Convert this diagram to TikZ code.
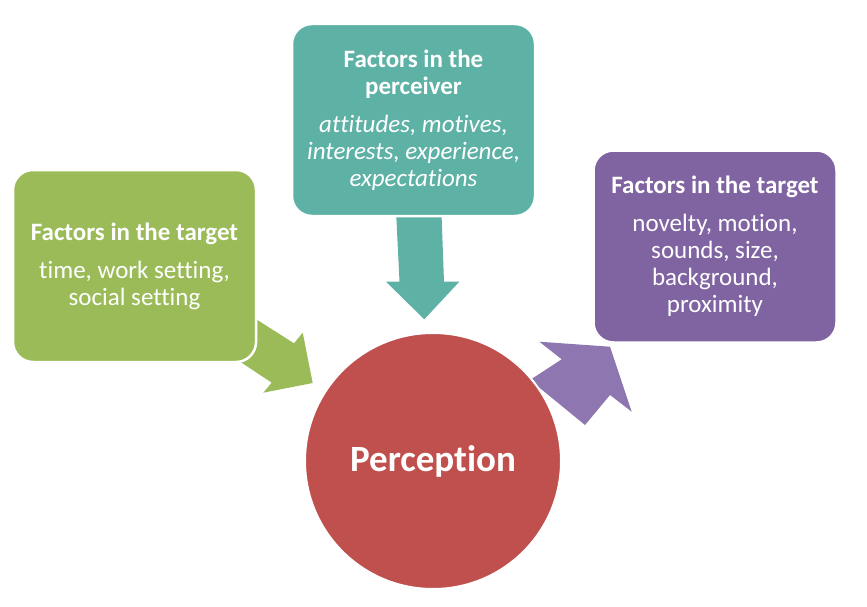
\documentclass[tikz,border=0pt]{standalone}
\usepackage{fontspec}
\setmainfont{Carlito}[Ligatures={NoCommon}]
\definecolor{greenc}{HTML}{9BBB59}
\definecolor{tealc}{HTML}{5EB1A5}
\definecolor{purplec}{HTML}{8064A2}
\definecolor{purplea}{HTML}{8E77B0}
\definecolor{redc}{HTML}{C0504D}
\begin{document}
\begin{tikzpicture}[x=1pt,y=-1pt]
\tikzset{
  fbox/.style={rounded corners=20pt, draw=white, line width=2.5pt, text=white,
    align=center, inner sep=0pt, minimum width=243pt, minimum height=192pt,
    font=\fontsize{25}{27}\selectfont}
}
\useasboundingbox (0,0) rectangle (867,607);
% block arrows
\fill[greenc] (230,302.6) -- (294,343.3) -- (302.7,332.7) -- (312.7,383) -- (263.3,392.7) -- (271.7,382.7) -- (215,345) -- cycle;
\fill[tealc] (395.5,200) -- (399.5,281.7) -- (386,281.7) -- (424.3,319.3) -- (459.3,281.7) -- (444,281.7) -- (441,200) -- cycle;
\fill[purplea] (539.3,341.7) -- (610,346.7) -- (631.7,411.7) -- (610,395) -- (585,425) -- (530,380) -- (561.7,359.3) -- cycle;
% centre
\node[circle, fill=redc, draw=white, line width=2pt, minimum size=256pt, text=white,
  font=\fontsize{37}{40}\selectfont\bfseries] (perc) at (433,461) {Perception};
% boxes
\node[fbox, fill=greenc] (g) at (134.5,266)
  {\textbf{Factors in the target}\\[11pt]time, work setting,\\social setting};
\node[fbox, fill=tealc] (t) at (413.5,120)
  {\textbf{Factors in the}\\\textbf{perceiver}\\[11pt]\textit{attitudes, motives,}\\\textit{interests, experience,}\\\textit{expectations}};
\node[fbox, fill=purplec] (p) at (715,246.5)
  {\textbf{Factors in the target}\\[11pt]novelty, motion,\\sounds, size,\\background,\\proximity};
\end{tikzpicture}
\end{document}
